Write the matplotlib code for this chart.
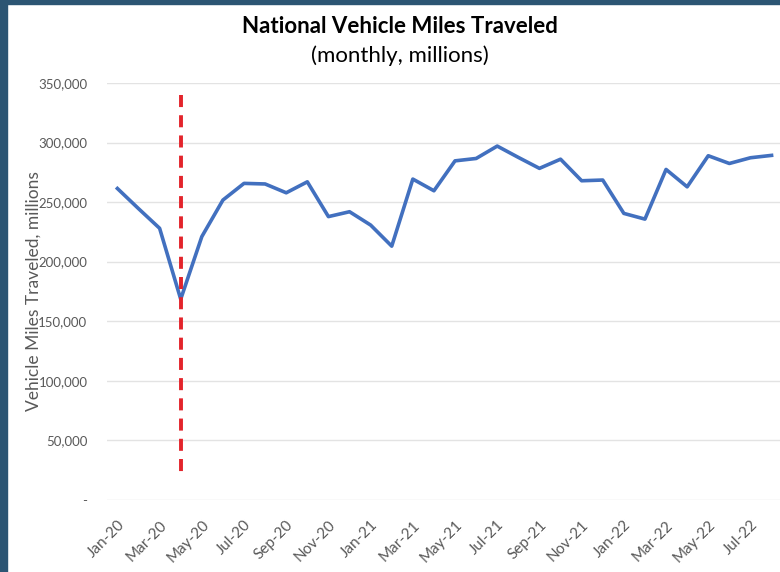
import matplotlib.pyplot as plt
from matplotlib.patches import Rectangle
from matplotlib.ticker import FuncFormatter

months = ['Jan-20', 'Feb-20', 'Mar-20', 'Apr-20', 'May-20', 'Jun-20', 'Jul-20', 'Aug-20',
          'Sep-20', 'Oct-20', 'Nov-20', 'Dec-20', 'Jan-21', 'Feb-21', 'Mar-21', 'Apr-21',
          'May-21', 'Jun-21', 'Jul-21', 'Aug-21', 'Sep-21', 'Oct-21', 'Nov-21', 'Dec-21',
          'Jan-22', 'Feb-22', 'Mar-22', 'Apr-22', 'May-22', 'Jun-22', 'Jul-22', 'Aug-22']
vmt = [261400, 244500, 228000, 168500, 221000, 251700, 265700, 265200,
       257800, 267000, 237800, 241900, 230700, 213000, 269300, 259500,
       284600, 286600, 297000, 287500, 278300, 286000, 267900, 268500,
       240500, 235700, 277400, 262800, 288900, 282400, 287200, 289200]

# covid marker (Apr-20), drawn from top to bottom
marker_month = 'Apr-20'
marker_span = (340000, 19500)

plt.rcParams['font.family'] = ['Lato', 'DejaVu Sans']

fig = plt.figure(figsize=(7.8, 5.72), dpi=100)
fig.patch.set_facecolor('white')

# dark frame on left and top
fig.patches.append(Rectangle((0, 0), 0.009, 1, transform=fig.transFigure,
                             color='#2C5573', zorder=10))
fig.patches.append(Rectangle((0, 0.993), 1, 0.007, transform=fig.transFigure,
                             color='#2C5573', zorder=10))

ax = fig.add_axes([0.137, 0.126, 0.863, 0.729])
x = list(range(len(months)))
ax.plot(x, vmt, color='#4270BF', lw=2.6, solid_joinstyle='round', zorder=3)

xm = months.index(marker_month)
ax.plot([xm, xm], marker_span, color='#E3242B', lw=2.8,
        linestyle=(0, (3.1, 2.1)), zorder=4)

ax.set_xlim(-0.5, 31.4)
ax.set_ylim(0, 350000)
ax.set_yticks(range(0, 350001, 50000))
ax.yaxis.set_major_formatter(FuncFormatter(lambda v, p: '-' if v == 0 else f'{int(v):,}'))
ax.set_xticks(x[::2])
ax.set_xticklabels(months[::2], rotation=45, ha='right', rotation_mode='anchor')

ax.grid(axis='y', color='#E3E3E3', lw=1)
ax.set_axisbelow(True)
for s in ax.spines.values():
    s.set_visible(False)
ax.tick_params(length=0, colors='#595959')
ax.tick_params(axis='x', pad=13, labelsize=11)
ax.tick_params(axis='y', pad=14, labelsize=9.5)

ax.set_ylabel('Vehicle Miles Traveled, millions', color='#595959', fontsize=12.5)
ax.yaxis.set_label_coords(-0.097, 0.5)

fig.text(0.513, 0.953, 'National Vehicle Miles Traveled', ha='center', va='center',
         fontsize=16, fontweight='bold', color='black')
fig.text(0.513, 0.903, '(monthly, millions)', ha='center', va='center',
         fontsize=16, color='black')

fig.savefig('out.png', dpi=100)
